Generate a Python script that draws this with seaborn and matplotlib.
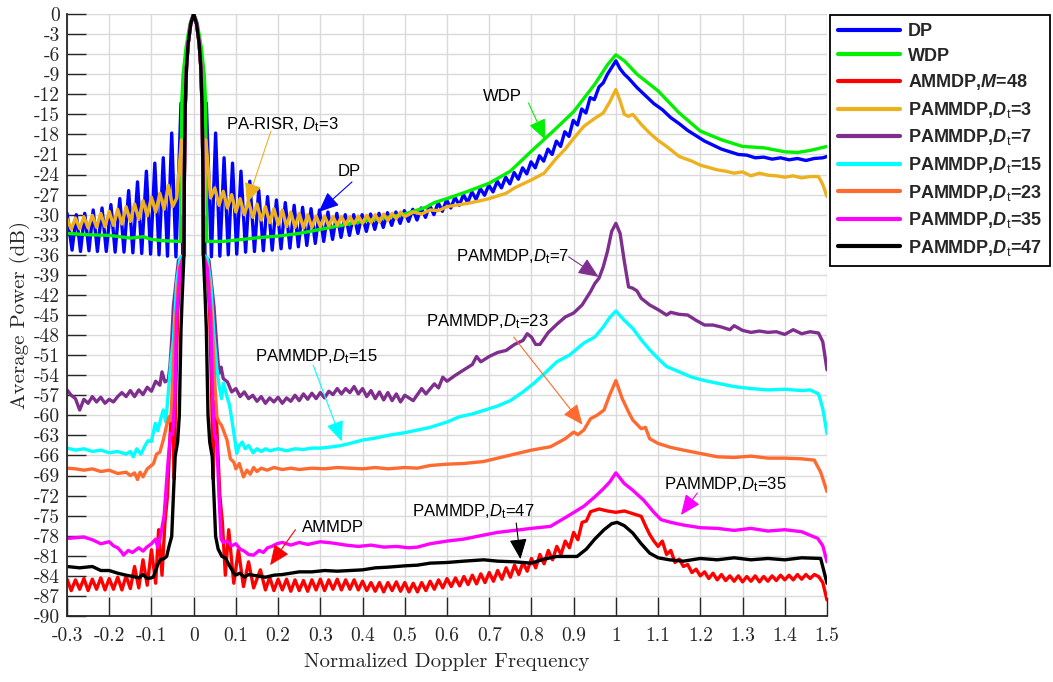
import numpy as np
import pandas as pd
import seaborn as sns
import matplotlib.pyplot as plt

sns.set_style("ticks")
plt.rcParams['font.family'] = ['Liberation Sans', 'DejaVu Sans']
plt.rcParams['mathtext.fontset'] = 'custom'
plt.rcParams['mathtext.rm'] = 'Liberation Sans'
plt.rcParams['mathtext.it'] = 'Liberation Sans:italic'
plt.rcParams['mathtext.bf'] = 'Liberation Sans:bold'
plt.rcParams['mathtext.bfit'] = 'Liberation Sans:bold:italic'
plt.rcParams['axes.unicode_minus'] = False

## Data (normalized Doppler frequency, average power in dB)

# main lobe shared by the PAMMDP / AMMDP curves
core_x = [-0.023, -0.022, -0.020, -0.017, -0.013, -0.007, 0.0, 0.007, 0.013, 0.017, 0.020, 0.022, 0.023]
core_y = [-36.0, -24.0, -14.0, -8.0, -4.4, -1.5, 0.0, -1.5, -4.4, -8.0, -14.0, -24.0, -36.0]

dp_x = [-0.300, -0.288, -0.278, -0.268, -0.258, -0.248, -0.238, -0.228, -0.217, -0.207,
        -0.196, -0.186, -0.175, -0.165, -0.154, -0.144, -0.133, -0.123, -0.112, -0.102,
        -0.092, -0.082, -0.072, -0.062, -0.052, -0.042, -0.030, -0.026, -0.023, -0.021,
        -0.018, -0.013, -0.007, 0.0, 0.007, 0.013, 0.018, 0.021, 0.023, 0.026,
        0.030, 0.042, 0.052, 0.062, 0.072, 0.082, 0.092, 0.102, 0.112, 0.123,
        0.133, 0.144, 0.154, 0.165, 0.175, 0.186, 0.196, 0.207, 0.217, 0.228,
        0.238, 0.248, 0.258, 0.268, 0.278, 0.288, 0.298, 0.308, 0.318, 0.329,
        0.339, 0.349, 0.359, 0.369, 0.379, 0.389, 0.399, 0.409, 0.419, 0.429,
        0.439, 0.449, 0.459, 0.469, 0.479, 0.489, 0.499, 0.509, 0.519, 0.529,
        0.539, 0.549, 0.559, 0.569, 0.579, 0.589, 0.599, 0.609, 0.619, 0.629,
        0.639, 0.649, 0.659, 0.669, 0.679, 0.689, 0.699, 0.709, 0.719, 0.729,
        0.739, 0.749, 0.759, 0.769, 0.779, 0.789, 0.799, 0.809, 0.819, 0.829,
        0.839, 0.849, 0.859, 0.869, 0.879, 0.889, 0.899, 0.909, 0.919, 0.929,
        0.939, 0.949, 0.960, 0.970, 0.980, 0.990, 1.000, 1.010, 1.020, 1.030,
        1.050, 1.070, 1.090, 1.110, 1.130, 1.150, 1.170, 1.190, 1.210, 1.230,
        1.250, 1.270, 1.290, 1.310, 1.330, 1.350, 1.370, 1.390, 1.410, 1.430,
        1.450, 1.470, 1.490, 1.500]
dp_y = [-29.8, -35.3, -30.0, -35.5, -29.8, -35.4, -29.3, -35.5, -29.0, -35.5,
        -28.5, -35.6, -27.6, -35.6, -26.4, -35.7, -25.1, -35.8, -23.5, -35.9,
        -22.3, -36.0, -21.5, -36.2, -17.8, -36.3, -13.3, -36.2, -24.0, -14.0,
        -7.5, -3.8, -1.2, 0.0, -1.2, -3.8, -7.5, -14.0, -24.0, -36.2,
        -13.3, -36.3, -17.8, -36.2, -21.5, -36.0, -22.3, -35.9, -23.5, -35.6,
        -25.0, -35.5, -26.3, -35.4, -27.3, -35.3, -27.8, -35.1, -28.2, -35.0,
        -28.6, -34.8, -28.9, -34.6, -29.1, -34.3, -29.3, -34.0, -29.6, -33.7,
        -29.8, -33.4, -30.0, -33.1, -30.0, -32.8, -30.0, -32.5, -29.9, -32.2,
        -29.8, -31.9, -29.7, -31.6, -29.6, -31.3, -29.4, -31.0, -29.2, -30.8,
        -29.0, -30.4, -28.6, -30.0, -28.2, -29.5, -27.8, -29.0, -27.4, -28.6,
        -27.0, -28.2, -26.6, -27.7, -26.1, -27.1, -25.6, -26.6, -25.0, -26.0,
        -24.4, -25.4, -23.7, -24.7, -23.0, -23.9, -22.1, -23.0, -21.2, -22.0,
        -20.2, -21.0, -19.0, -19.8, -17.6, -18.3, -15.9, -16.6, -14.2, -14.8,
        -12.5, -12.8, -10.9, -10.3, -9.0, -8.0, -7.0, -8.2, -9.0, -9.6,
        -11.0, -12.2, -13.4, -14.3, -15.5, -16.4, -17.4, -18.2, -19.0, -19.6,
        -20.2, -20.6, -21.0, -21.1, -21.5, -21.4, -21.7, -21.5, -21.8, -21.6,
        -21.9, -21.6, -21.5, -21.3]

wdp_x = [-0.30, -0.25, -0.20, -0.15, -0.12, -0.10, -0.07, -0.031, -0.030, -0.029,
         -0.028, -0.025, -0.018, -0.009, 0.0, 0.009, 0.018, 0.025, 0.028, 0.029,
         0.030, 0.031, 0.07, 0.10, 0.13, 0.16, 0.20, 0.25, 0.30, 0.35,
         0.40, 0.45, 0.50, 0.55, 0.57, 0.60, 0.65, 0.70, 0.75, 0.80,
         0.85, 0.90, 0.95, 0.98, 1.00, 1.02, 1.05, 1.10, 1.15, 1.20,
         1.25, 1.30, 1.35, 1.40, 1.43, 1.46, 1.50]
wdp_y = [-32.8, -33.0, -33.1, -33.5, -33.3, -33.7, -33.9, -34.0, -27.0, -20.0,
         -13.0, -9.0, -5.0, -1.6, 0.0, -1.6, -5.0, -9.0, -13.0, -20.0,
         -27.0, -34.0, -34.0, -33.8, -33.6, -33.4, -33.2, -32.8, -32.2, -31.6,
         -31.0, -30.5, -29.9, -28.9, -28.2, -27.6, -26.5, -25.3, -23.5, -20.5,
         -17.6, -14.6, -10.5, -7.6, -6.1, -7.0, -9.0, -11.5, -14.8, -17.5,
         -18.8, -19.8, -20.0, -20.6, -20.7, -20.4, -19.8]

am_x = [-0.30, -0.29, -0.28, -0.27, -0.26, -0.25, -0.24, -0.23, -0.22, -0.21,
        -0.20, -0.19, -0.18, -0.17, -0.16, -0.15, -0.14, -0.13, -0.12, -0.11,
        -0.10, -0.09, -0.083, -0.075, -0.068, -0.062, -0.055, -0.050, -0.046, -0.043,
        -0.038, -0.032] + core_x + [
        0.032, 0.038, 0.043, 0.046, 0.050, 0.055, 0.062, 0.068, 0.075, 0.083,
        0.095, 0.106, 0.118, 0.130, 0.142, 0.158, 0.170,
        0.18, 0.19, 0.20, 0.21, 0.22, 0.23, 0.24, 0.25, 0.26, 0.27,
        0.28, 0.29, 0.30, 0.31, 0.32, 0.33, 0.34, 0.35, 0.36, 0.37,
        0.38, 0.39, 0.40, 0.41, 0.42, 0.43, 0.44, 0.45, 0.46, 0.47,
        0.48, 0.49, 0.50, 0.51, 0.52, 0.53, 0.54, 0.55, 0.56, 0.57,
        0.58, 0.59, 0.60, 0.61, 0.62, 0.63, 0.64, 0.65, 0.66, 0.67,
        0.68, 0.69, 0.70, 0.71, 0.72, 0.73, 0.74, 0.75, 0.76, 0.77,
        0.78, 0.79, 0.80, 0.81, 0.82, 0.83, 0.84, 0.85, 0.86, 0.87,
        0.88, 0.89, 0.90, 0.91, 0.92,
        0.93, 0.94, 0.96, 0.98, 1.00, 1.02, 1.04, 1.06,
        1.07, 1.08, 1.09, 1.10, 1.11, 1.12, 1.13, 1.14, 1.15, 1.16,
        1.17, 1.18, 1.19, 1.20, 1.21, 1.22, 1.23, 1.24, 1.25, 1.26,
        1.27, 1.28, 1.29, 1.30, 1.31, 1.32, 1.33, 1.34, 1.35, 1.36,
        1.37, 1.38, 1.39, 1.40, 1.41, 1.42, 1.43, 1.44, 1.45, 1.46,
        1.47, 1.48, 1.49, 1.50]
am_y = [-84.5, -86.2, -84.6, -86.0, -84.4, -86.2, -84.5, -86.0, -84.3, -86.1,
        -84.4, -86.0, -84.2, -86.1, -84.0, -85.9, -82.6, -85.8, -81.6, -85.4,
        -80.1, -85.1, -77.1, -83.9, -76.0, -72.0, -62.0, -58.0, -69.5, -58.0,
        -45.0, -38.0] + core_y + [
        -38.0, -45.0, -58.0, -69.5, -58.0, -62.0, -72.0, -76.0, -83.9, -77.1,
        -85.1, -80.1, -85.6, -81.9, -85.8, -83.1, -86.1,
        -84.2, -86.2, -84.5, -86.1, -84.5, -86.3, -84.6, -86.2, -84.7, -86.3,
        -84.6, -86.1, -84.5, -86.2, -84.6, -86.0, -84.5, -86.1, -84.6, -86.0,
        -84.6, -86.1, -84.8, -86.2, -85.0, -86.3, -85.0, -86.4, -85.0, -86.2,
        -84.9, -86.3, -85.0, -86.4, -85.1, -86.4, -85.0, -86.2, -84.8, -86.0,
        -84.6, -85.8, -84.4, -85.6, -84.3, -85.5, -84.1, -85.3, -83.9, -85.2,
        -83.7, -85.0, -83.5, -84.8, -83.2, -84.5, -82.8, -84.2, -82.4, -83.8,
        -82.0, -83.3, -81.4, -82.8, -80.8, -82.2, -80.2, -81.6, -79.6, -80.8,
        -78.8, -79.8, -77.5, -78.6, -76.0,
        -75.8, -74.4, -74.0, -74.3, -74.5, -74.3, -74.7, -75.1,
        -76.5, -77.8, -78.8, -79.6, -78.8, -80.8, -80.2, -82.0, -81.5, -82.6,
        -82.3, -83.5, -83.0, -84.0, -83.4, -84.4, -83.6, -84.6, -83.8, -84.7,
        -84.0, -84.8, -84.0, -84.9, -84.1, -84.8, -84.0, -84.9, -84.1, -84.8,
        -84.0, -84.7, -83.9, -84.6, -83.9, -84.6, -83.8, -84.5, -83.8, -84.4,
        -83.8, -84.1, -85.0, -87.6]

p3_x = [-0.30, -0.29, -0.28, -0.27, -0.26, -0.25, -0.24, -0.23, -0.22, -0.21,
        -0.20, -0.19, -0.18, -0.17, -0.16, -0.15, -0.14, -0.13, -0.12, -0.11,
        -0.10, -0.09, -0.08, -0.07, -0.06, -0.05, -0.04,
        -0.029, -0.025, -0.022, -0.020, -0.017, -0.013, -0.007, 0.0, 0.007, 0.013,
        0.017, 0.020, 0.022, 0.025, 0.029,
        0.04, 0.05, 0.06, 0.07, 0.08, 0.09, 0.10, 0.11, 0.12, 0.13,
        0.14, 0.15, 0.16, 0.17, 0.18, 0.19, 0.20, 0.21, 0.22, 0.23,
        0.24, 0.25, 0.26, 0.27, 0.28, 0.29, 0.30, 0.31, 0.32, 0.33,
        0.34, 0.35, 0.36, 0.37, 0.38, 0.39, 0.40, 0.41, 0.42, 0.43,
        0.44, 0.45, 0.46, 0.47, 0.48, 0.49, 0.50,
        0.52, 0.54, 0.56, 0.58, 0.60, 0.62, 0.65, 0.68, 0.70, 0.72,
        0.74, 0.76, 0.78, 0.80, 0.83, 0.86, 0.88, 0.90, 0.924, 0.95,
        0.97, 0.985, 1.00, 1.01, 1.02, 1.03, 1.04, 1.06, 1.08, 1.10,
        1.12, 1.15, 1.18, 1.20, 1.24, 1.26, 1.28, 1.30, 1.32, 1.34,
        1.36, 1.38, 1.40, 1.42, 1.44, 1.46, 1.48, 1.49, 1.50]
p3_y = [-30.6, -32.2, -30.5, -32.1, -30.3, -32.0, -30.1, -31.9, -29.8, -31.8,
        -29.5, -31.6, -29.2, -31.4, -28.8, -31.0, -28.4, -30.7, -27.9, -30.2,
        -27.4, -29.6, -26.8, -29.2, -25.6, -28.8, -27.5,
        -18.8, -30.0, -24.0, -14.0, -8.0, -4.4, -1.5, 0.0, -1.5, -4.4,
        -8.0, -14.0, -24.0, -30.0, -18.8,
        -27.5, -26.0, -28.6, -26.5, -29.0, -27.0, -29.6, -27.6, -30.0, -28.0,
        -30.4, -28.4, -30.8, -28.8, -31.2, -29.1, -31.5, -29.3, -31.8, -29.6,
        -31.9, -29.8, -32.0, -30.0, -31.9, -30.2, -31.8, -30.2, -31.7, -30.3,
        -31.6, -30.3, -31.5, -30.3, -31.4, -30.2, -31.3, -30.1, -31.2, -30.0,
        -31.1, -29.9, -30.9, -29.8, -30.6, -29.6, -30.3,
        -29.6, -29.9, -29.3, -29.4, -28.8, -28.6, -28.3, -27.9, -27.6, -27.2,
        -26.8, -26.0, -25.4, -24.8, -23.8, -21.5, -20.2, -18.6, -16.8, -15.6,
        -14.8, -13.2, -11.3, -13.0, -15.0, -15.3, -15.0, -16.5, -17.8, -18.9,
        -19.8, -21.3, -22.0, -22.6, -23.3, -23.5, -23.8, -23.6, -24.2, -23.8,
        -24.1, -24.2, -24.4, -24.2, -24.5, -24.3, -24.3, -25.5, -27.3]

p7_x = [-0.30, -0.29, -0.28, -0.27, -0.26, -0.25, -0.24, -0.23, -0.22, -0.21,
        -0.20, -0.19, -0.18, -0.17, -0.16, -0.15, -0.14, -0.13, -0.12, -0.11,
        -0.10, -0.09, -0.08, -0.075, -0.068, -0.060, -0.056, -0.052, -0.048, -0.036] + core_x + [
        0.036, 0.048, 0.055, 0.060, 0.065, 0.070, 0.080, 0.090, 0.100,
        0.11, 0.12, 0.13, 0.14, 0.15, 0.16, 0.17, 0.18, 0.19, 0.20,
        0.21, 0.22, 0.23, 0.24, 0.25, 0.26, 0.27, 0.28, 0.29, 0.30,
        0.31, 0.32, 0.33, 0.34, 0.35, 0.36, 0.37, 0.38, 0.39, 0.40,
        0.41, 0.42, 0.43, 0.44, 0.45, 0.46, 0.47, 0.48, 0.49, 0.50,
        0.52, 0.54, 0.55, 0.57, 0.58, 0.59, 0.60, 0.62, 0.64, 0.66,
        0.67, 0.68, 0.70, 0.72, 0.74, 0.76, 0.78, 0.79, 0.80, 0.81,
        0.82, 0.84, 0.86, 0.88, 0.90, 0.92, 0.94, 0.95, 0.96, 0.97,
        0.98, 0.99, 1.00, 1.01, 1.02, 1.03, 1.04, 1.05, 1.06, 1.07,
        1.08, 1.10, 1.12, 1.13, 1.15, 1.17, 1.19, 1.21, 1.23, 1.25,
        1.27, 1.28, 1.30, 1.32, 1.34, 1.36, 1.38, 1.40, 1.42, 1.44,
        1.46, 1.48, 1.49, 1.50]
p7_y = [-56.2, -57.0, -57.5, -59.2, -57.6, -58.2, -57.2, -58.0, -57.3, -58.2,
        -57.6, -58.0, -57.2, -56.6, -57.2, -56.3, -57.2, -56.2, -56.9, -55.8,
        -56.4, -54.9, -55.5, -53.5, -55.0, -54.7, -52.5, -48.7, -43.7, -36.8] + core_y + [
        -36.8, -43.7, -50.0, -53.7, -52.8, -54.5, -55.0, -56.5, -56.0,
        -57.2, -56.5, -57.5, -57.0, -57.9, -57.2, -58.2, -57.4, -58.0, -57.3,
        -58.2, -57.4, -57.9, -57.0, -57.8, -56.8, -57.6, -56.7, -57.5, -56.6,
        -57.4, -56.4, -56.9, -56.0, -56.8, -56.0, -56.6, -55.7, -56.8, -56.0,
        -57.2, -56.3, -57.5, -56.5, -57.7, -56.6, -57.8, -56.8, -58.0, -57.0,
        -57.8, -56.0, -56.8, -55.3, -55.9, -54.3, -54.9, -54.0, -53.2, -52.4,
        -51.2, -52.0, -51.2, -50.6, -50.3, -49.4, -48.8, -47.8, -48.3, -49.4,
        -49.4, -47.6, -46.4, -45.3, -44.7, -43.5, -41.5, -40.3, -39.5, -37.8,
        -35.5, -32.5, -31.3, -32.8, -37.0, -40.8, -41.0, -41.4, -42.5, -43.0,
        -43.5, -44.2, -45.0, -44.6, -44.9, -45.0, -45.8, -46.5, -46.5, -46.8,
        -47.2, -46.6, -47.3, -47.6, -47.4, -47.6, -47.5, -47.9, -47.2, -47.8,
        -47.5, -47.7, -49.0, -53.2]

p15_x = [-0.30, -0.28, -0.26, -0.24, -0.22, -0.20, -0.18, -0.16, -0.15, -0.143,
         -0.135, -0.125, -0.115, -0.108, -0.100, -0.091, -0.085, -0.078, -0.072, -0.066,
         -0.060, -0.054, -0.048, -0.040, -0.032] + core_x + [
         0.032, 0.040, 0.048, 0.055, 0.060, 0.066, 0.071, 0.078, 0.085, 0.090,
         0.096, 0.102, 0.108, 0.115, 0.122, 0.130, 0.141, 0.150, 0.160, 0.170,
         0.180, 0.20, 0.22, 0.24, 0.26, 0.28, 0.30, 0.33, 0.35, 0.37,
         0.40, 0.43, 0.46, 0.50, 0.53, 0.56, 0.60, 0.63, 0.66, 0.69,
         0.72, 0.75, 0.78, 0.806, 0.83, 0.86, 0.89, 0.924, 0.95, 0.97,
         0.985, 1.00, 1.02, 1.04, 1.06, 1.08, 1.10, 1.12, 1.15, 1.18,
         1.21, 1.24, 1.28, 1.32, 1.36, 1.40, 1.44, 1.46, 1.48, 1.49,
         1.50]
p15_y = [-64.9, -65.2, -65.0, -65.4, -65.2, -65.6, -65.4, -65.8, -65.4, -66.2,
         -65.0, -65.8, -64.5, -63.8, -63.9, -61.2, -62.3, -60.5, -59.2, -61.0,
         -56.5, -52.0, -48.7, -40.0, -36.5] + core_y + [
         -36.5, -40.0, -48.0, -53.0, -55.5, -57.5, -55.2, -57.0, -58.5, -60.5,
         -63.0, -65.7, -64.5, -64.0, -65.0, -64.5, -65.6, -65.0, -65.4, -65.0,
         -65.3, -65.0, -65.3, -65.0, -65.1, -64.9, -64.9, -64.7, -64.5, -64.2,
         -63.7, -63.4, -63.0, -62.6, -62.2, -61.8, -61.0, -60.2, -59.8, -59.2,
         -58.6, -57.8, -56.5, -55.2, -53.8, -52.0, -51.0, -49.2, -48.3, -46.8,
         -45.4, -44.4, -45.8, -47.0, -48.7, -50.2, -51.5, -52.7, -53.5, -54.3,
         -54.8, -55.2, -55.7, -56.0, -56.2, -56.1, -56.3, -56.2, -56.8, -59.0,
         -62.7]

p23_x = [-0.30, -0.28, -0.26, -0.24, -0.22, -0.20, -0.18, -0.16, -0.15, -0.14,
         -0.133, -0.127, -0.12, -0.11, -0.10, -0.095, -0.088, -0.08, -0.072, -0.064,
         -0.058, -0.054, -0.05, -0.044, -0.034] + core_x + [
         0.034, 0.044, 0.05, 0.055, 0.06, 0.066, 0.072, 0.079, 0.087, 0.095,
         0.10, 0.108, 0.118, 0.126, 0.134, 0.142, 0.15, 0.16, 0.174, 0.19,
         0.21, 0.23, 0.25, 0.28, 0.31, 0.34, 0.37, 0.40, 0.43, 0.46,
         0.50, 0.53, 0.56, 0.60, 0.64, 0.687, 0.72, 0.76, 0.80, 0.845,
         0.88, 0.90, 0.91, 0.924, 0.94, 0.955, 0.972, 0.985, 1.00, 1.015,
         1.03, 1.04, 1.06, 1.07, 1.08, 1.10, 1.13, 1.16, 1.20, 1.24,
         1.28, 1.32, 1.36, 1.40, 1.44, 1.47, 1.485, 1.50]
p23_y = [-67.9, -68.0, -68.2, -68.0, -68.4, -68.2, -68.7, -68.5, -69.0, -68.6,
         -69.6, -68.5, -69.2, -68.0, -67.5, -67.2, -65.8, -65.5, -63.7, -61.5,
         -60.2, -60.8, -55.0, -47.0, -38.0] + core_y + [
         -38.0, -47.0, -55.0, -60.2, -61.0, -61.5, -62.5, -63.7, -66.5, -67.0,
         -68.0, -67.2, -69.2, -68.2, -68.8, -67.8, -68.4, -67.9, -68.2, -67.8,
         -68.1, -67.9, -68.1, -67.9, -68.0, -67.8, -67.9, -68.0, -67.8, -68.0,
         -67.8, -67.9, -67.5, -67.3, -67.2, -66.9, -66.4, -65.8, -65.2, -64.7,
         -63.5, -62.5, -62.9, -62.2, -60.5, -60.0, -59.2, -57.0, -54.8, -57.5,
         -59.5, -60.7, -62.0, -61.8, -63.5, -64.2, -64.8, -65.2, -65.7, -66.2,
         -66.3, -66.1, -66.4, -66.4, -66.5, -66.7, -68.5, -71.4]

p35_x = [-0.30, -0.28, -0.26, -0.24, -0.22, -0.20, -0.19, -0.18, -0.17, -0.166,
         -0.155, -0.145, -0.13, -0.12, -0.111, -0.10, -0.09, -0.085, -0.079, -0.07,
         -0.062, -0.055, -0.05, -0.045, -0.04, -0.032] + core_x + [
         0.032, 0.04, 0.045, 0.05, 0.055, 0.06, 0.065, 0.07, 0.08, 0.09,
         0.10, 0.11, 0.12, 0.13, 0.142, 0.155, 0.165, 0.175, 0.185, 0.197,
         0.21, 0.23, 0.25, 0.27, 0.30, 0.33, 0.36, 0.39, 0.42, 0.45,
         0.48, 0.51, 0.53, 0.56, 0.60, 0.64, 0.687, 0.72, 0.76, 0.80,
         0.845, 0.88, 0.924, 0.95, 0.97, 0.985, 1.00, 1.02, 1.04, 1.066,
         1.09, 1.107, 1.13, 1.16, 1.20, 1.24, 1.28, 1.32, 1.36, 1.40,
         1.44, 1.478, 1.49, 1.50]
p35_y = [-78.4, -78.3, -78.2, -78.6, -79.2, -78.9, -79.5, -79.8, -80.5, -80.9,
         -80.2, -80.5, -79.8, -80.3, -79.7, -79.2, -78.5, -79.8, -78.2, -75.0,
         -68.0, -62.7, -62.9, -58.0, -45.0, -38.0] + core_y + [
         -38.0, -45.0, -58.0, -62.9, -64.0, -72.0, -78.5, -79.0, -78.8, -79.5,
         -79.2, -80.0, -80.3, -80.8, -80.9, -80.2, -80.5, -79.8, -79.6, -79.2,
         -79.0, -79.4, -79.0, -79.3, -78.9, -79.1, -79.4, -79.6, -79.4, -79.7,
         -79.6, -79.8, -79.7, -79.2, -78.8, -78.5, -77.9, -77.5, -77.2, -76.9,
         -76.6, -75.3, -73.6, -72.2, -71.0, -70.0, -68.6, -70.2, -71.2, -72.7,
         -74.5, -75.6, -76.0, -76.4, -76.8, -76.9, -77.2, -76.9, -77.3, -77.1,
         -77.4, -78.4, -79.5, -81.9]

p47_x = [-0.30, -0.27, -0.24, -0.22, -0.20, -0.18, -0.16, -0.143, -0.13, -0.12,
         -0.11, -0.10, -0.095, -0.085, -0.079, -0.07, -0.064, -0.058, -0.052, -0.048,
         -0.044, -0.038, -0.034, -0.030, -0.027] + core_x + [
         0.027, 0.030, 0.034, 0.038, 0.044, 0.048, 0.052, 0.058, 0.067, 0.075,
         0.085, 0.098, 0.11, 0.12, 0.13, 0.15, 0.17, 0.19, 0.21, 0.23,
         0.25, 0.28, 0.31, 0.34, 0.37, 0.40, 0.43, 0.46, 0.50, 0.53,
         0.56, 0.60, 0.64, 0.687, 0.72, 0.76, 0.80, 0.83, 0.86, 0.908,
         0.93, 0.95, 0.972, 0.99, 1.003, 1.02, 1.04, 1.06, 1.08, 1.10,
         1.127, 1.16, 1.20, 1.24, 1.28, 1.32, 1.36, 1.40, 1.44, 1.485,
         1.50]
p47_y = [-82.6, -82.8, -82.6, -83.2, -83.2, -83.6, -83.9, -84.1, -84.3, -83.8,
         -84.4, -84.3, -84.1, -82.3, -81.6, -81.4, -81.1, -79.5, -78.1, -72.0,
         -66.2, -64.0, -60.0, -47.2, -42.0] + core_y + [
         -42.0, -47.2, -60.0, -64.0, -66.2, -72.0, -78.1, -80.0, -81.1, -81.3,
         -82.5, -83.9, -83.6, -84.2, -83.8, -84.0, -84.2, -83.9, -83.8, -83.6,
         -83.4, -83.4, -83.2, -83.3, -83.2, -83.1, -82.8, -82.7, -82.5, -82.4,
         -82.1, -82.0, -81.8, -81.6, -81.8, -81.9, -82.1, -81.5, -81.1, -81.1,
         -80.0, -78.5, -77.1, -76.2, -76.0, -76.5, -77.6, -79.2, -80.6, -81.3,
         -81.6, -81.8, -81.4, -81.6, -81.3, -81.6, -81.4, -81.6, -81.3, -81.4,
         -85.1]

series_labels = ["DP", "WDP", r"AMMDP,$\mathbfit{M}$=48",
                 r"PAMMDP,$\mathbfit{D}_{\mathrm{t}}$=3", r"PAMMDP,$\mathbfit{D}_{\mathrm{t}}$=7",
                 r"PAMMDP,$\mathbfit{D}_{\mathrm{t}}$=15", r"PAMMDP,$\mathbfit{D}_{\mathrm{t}}$=23",
                 r"PAMMDP,$\mathbfit{D}_{\mathrm{t}}$=35", r"PAMMDP,$\mathbfit{D}_{\mathrm{t}}$=47"]
series_colors = ["#0000FF", "#00F000", "#FF0000", "#EDB120", "#7E2F8E",
                 "#00FFFF", "#FF6A30", "#FF00FF", "#000000"]
series_x = [dp_x, wdp_x, am_x, p3_x, p7_x, p15_x, p23_x, p35_x, p47_x]
series_y = [dp_y, wdp_y, am_y, p3_y, p7_y, p15_y, p23_y, p35_y, p47_y]

xticks = [-0.3, -0.2, -0.1, 0, 0.1, 0.2, 0.3, 0.4, 0.5, 0.6, 0.7, 0.8, 0.9, 1.0, 1.1, 1.2, 1.3, 1.4, 1.5]
xtick_labels = ["-0.3", "-0.2", "-0.1", "0", "0.1", "0.2", "0.3", "0.4", "0.5", "0.6",
                "0.7", "0.8", "0.9", "1", "1.1", "1.2", "1.3", "1.4", "1.5"]
yticks = [0, -3, -6, -9, -12, -15, -18, -21, -24, -27, -30, -33, -36, -39, -42, -45,
          -48, -51, -54, -57, -60, -63, -66, -69, -72, -75, -78, -81, -84, -87, -90]

# annotation text: (label, text x, text y, arrow tail x, tail y, head x, head y, colour)
notes = [
    (r"PA-RISR, $\mathit{D}_{\mathrm{t}}$=3", 0.211, -16.6, 0.183, -17.5, 0.126, -28.3, "#EDB120"),
    ("DP", 0.368, -23.5, 0.375, -25.1, 0.296, -29.6, "#0000FF"),
    ("WDP", 0.732, -12.4, 0.793, -13.3, 0.833, -18.8, "#00F000"),
    (r"PAMMDP,$\mathit{D}_{\mathrm{t}}$=7", 0.755, -36.3, 0.888, -36.3, 0.959, -39.3, "#7E2F8E"),
    (r"PAMMDP,$\mathit{D}_{\mathrm{t}}$=23", 0.696, -46.0, 0.758, -48.3, 0.921, -61.4, "#FF6A30"),
    (r"PAMMDP,$\mathit{D}_{\mathrm{t}}$=15", 0.290, -51.3, 0.283, -52.5, 0.351, -63.9, "#00FFFF"),
    ("AMMDP", 0.331, -76.7, 0.241, -77.1, 0.181, -82.4, "#FF0000"),
    (r"PAMMDP,$\mathit{D}_{\mathrm{t}}$=47", 0.663, -74.4, 0.764, -76.1, 0.774, -81.5, "#000000"),
    (r"PAMMDP,$\mathit{D}_{\mathrm{t}}$=35", 1.260, -70.4, 1.193, -71.6, 1.154, -74.9, "#FF00FF"),
]

for sx, sy in zip(series_x, series_y):
    assert len(sx) == len(sy), (len(sx), len(sy))

fig = plt.figure(figsize=(10.53, 6.82), dpi=100)
ax = fig.add_axes([67 / 1053, 66 / 682, 760 / 1053, 602 / 682])

for sx, sy, c, lab in zip(series_x, series_y, series_colors, series_labels):
    sns.lineplot(x=sx, y=sy, color=c, lw=2.4, label=lab, ax=ax, sort=False, estimator=None)

ax.set_xlim(-0.3, 1.5)
ax.set_ylim(-90, 0)
ax.set_axisbelow(True)
ax.grid(True, color="#dadada", lw=1.0)
ax.set_xticks(xticks)
ax.set_xticklabels(xtick_labels, fontfamily="cmr10", fontsize=14)
ax.set_yticks(yticks)
ax.set_yticklabels([str(v) for v in yticks], fontfamily="cmr10", fontsize=14)
ax.tick_params(direction="in", length=14, width=1.0, colors="#262626", pad=5)
ax.tick_params(axis="x", pad=8)
for s in ["top", "right"]:
    ax.spines[s].set_visible(False)
for s in ["left", "bottom"]:
    ax.spines[s].set_linewidth(1.3)
    ax.spines[s].set_color("#262626")
ax.set_xlabel("Normalized Doppler Frequency", fontfamily="cmr10", fontsize=15, labelpad=6)
ax.set_ylabel("Average Power (dB)", fontfamily="cmr10", fontsize=15, labelpad=3)

for txt, tx, ty, x0, y0, x1, y1, c in notes:
    ax.text(tx, ty, txt, ha="center", va="center", fontsize=12, color="black")
    ax.annotate("", xy=(x1, y1), xytext=(x0, y0),
                arrowprops=dict(arrowstyle="-|>,head_length=0.7,head_width=0.3",
                                color=c, lw=0.8, shrinkA=0, shrinkB=0, mutation_scale=18))

leg = ax.legend(loc="upper left", bbox_to_anchor=(830 / 1053, 1 - 15 / 682),
                bbox_transform=fig.transFigure, frameon=True, fancybox=False,
                edgecolor="black", framealpha=1, borderaxespad=0,
                handlelength=3.4, handletextpad=0.45, labelspacing=0.42, borderpad=0.45,
                prop={"family": "Liberation Sans", "weight": "bold", "size": 13})
leg.get_frame().set_linewidth(1.3)
for line in leg.get_lines():
    line.set_linewidth(3)

fig.savefig("out.png", dpi=100)
